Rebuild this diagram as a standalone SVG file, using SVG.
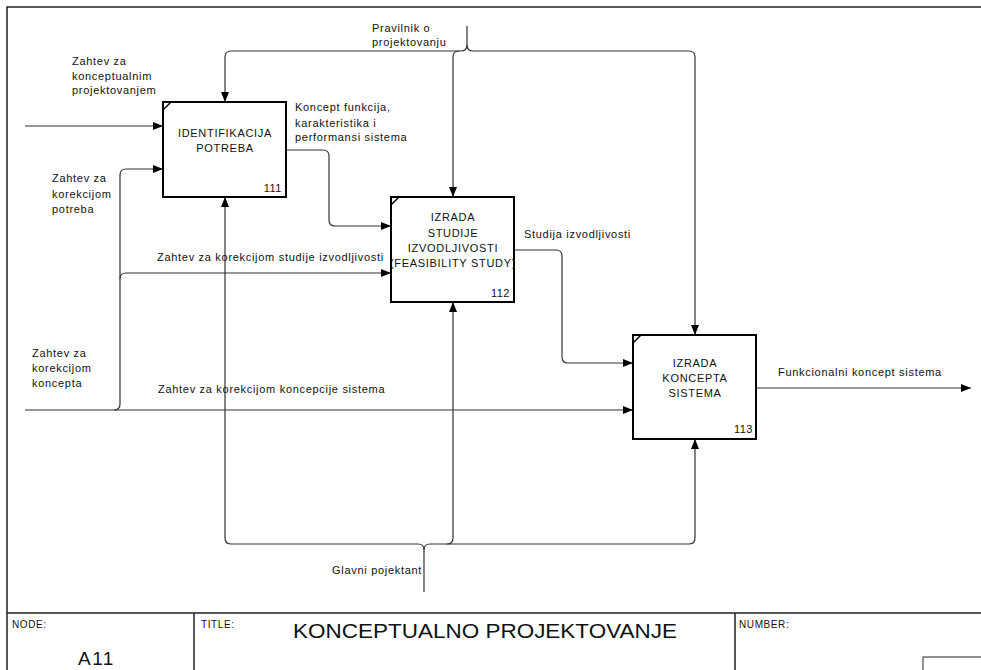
<svg xmlns="http://www.w3.org/2000/svg" width="981" height="670" viewBox="0 0 981 670">
  <defs>
    <marker id="arrow" markerUnits="userSpaceOnUse" markerWidth="10" markerHeight="8" refX="10" refY="4" orient="auto">
      <path d="M0,0 L10,4 L0,8 z" fill="#000"/>
    </marker>
    <style>
      text { font-family: "Liberation Sans", Arial, sans-serif; fill: #111; }
      .lbl { font-size: 11px; letter-spacing: 0.7px; }
      .box { fill: #fff; stroke: #000; stroke-width: 2; }
      .tick { stroke: #000; stroke-width: 1.5; }
      .btxt { font-size: 11px; letter-spacing: 0.7px; text-anchor: middle; }
      .num { font-size: 11px; letter-spacing: 0.5px; text-anchor: end; }
      .conn { fill: none; stroke: #333; stroke-width: 1.2; }
      .arr { marker-end: url(#arrow); }
      .frame { fill: none; stroke: #222; stroke-width: 1.5; }
      .ftag { font-size: 10px; letter-spacing: 0.6px; }
    </style>
  </defs>

  <rect width="981" height="670" fill="#fff"/>

  <!-- frame and title block -->
  <g id="frame">
    <path class="frame" d="M7,670 V7 H981"/>
    <path class="frame" d="M7,613 H981 M194,613 V670 M735,613 V670"/>
    <rect x="923" y="657" width="70" height="30" fill="none" stroke="#222" stroke-width="1"/>
    <text class="ftag" x="12" y="628">NODE:</text>
    <text class="ftag" x="201" y="628">TITLE:</text>
    <text class="ftag" x="739" y="628">NUMBER:</text>
    <text x="78" y="665" font-size="19" letter-spacing="1.5">A11</text>
    <text x="293" y="638" font-size="21" textLength="384" lengthAdjust="spacingAndGlyphs">KONCEPTUALNO PROJEKTOVANJE</text>
  </g>

  <!-- connectors -->
  <g id="connectors">
    <!-- input: request for conceptual design -->
    <path class="conn arr" d="M25,126 H163"/>
    <!-- input: correction of concept, with branches up to boxes 1 and 2 -->
    <path class="conn arr" d="M25,410 H633"/>
    <path class="conn arr" d="M114,410 Q120,410 120,404 V175 Q120,169 126,169 H163"/>
    <path class="conn arr" d="M120,279 Q120,273 126,273 H391"/>
    <!-- box 1 output to box 2 -->
    <path class="conn arr" d="M286,150 H323 Q329,150 329,156 V220 Q329,226 335,226 H391"/>
    <!-- box 2 output to box 3 -->
    <path class="conn arr" d="M514,250 H556 Q562,250 562,256 V357 Q562,363 568,363 H633"/>
    <!-- box 3 output -->
    <path class="conn arr" d="M756,388 H971"/>
    <!-- control: design rules -->
    <path class="conn arr" d="M467,26 V45 Q467,51 461,51 H231 Q225,51 225,57 V102"/>
    <path class="conn arr" d="M459,51 Q453,51 453,57 V197"/>
    <path class="conn arr" d="M467,45 Q467,51 473,51 H689 Q695,51 695,57 V335"/>
    <!-- mechanism: chief designer -->
    <path class="conn arr" d="M424,592 V550 Q424,544 418,544 H231 Q225,544 225,538 V197"/>
    <path class="conn arr" d="M424,550 Q424,544 430,544 H689 Q695,544 695,538 V439"/>
    <path class="conn arr" d="M447,544 Q453,544 453,538 V302"/>
  </g>

  <!-- arrow labels -->
  <g id="labels">
    <text class="lbl" x="72" y="65">Zahtev za</text>
    <text class="lbl" x="72" y="80">konceptualnim</text>
    <text class="lbl" x="72" y="94">projektovanjem</text>
    <text class="lbl" x="372" y="32">Pravilnik o</text>
    <text class="lbl" x="372" y="46">projektovanju</text>
    <text class="lbl" x="295" y="111">Koncept funkcija,</text>
    <text class="lbl" x="295" y="127">karakteristika i</text>
    <text class="lbl" x="295" y="141">performansi sistema</text>
    <text class="lbl" x="52" y="182">Zahtev za</text>
    <text class="lbl" x="52" y="198">korekcijom</text>
    <text class="lbl" x="52" y="213">potreba</text>
    <text class="lbl" x="157" y="261">Zahtev za korekcijom studije izvodljivosti</text>
    <text class="lbl" x="524" y="238">Studija izvodljivosti</text>
    <text class="lbl" x="32" y="357">Zahtev za</text>
    <text class="lbl" x="32" y="372">korekcijom</text>
    <text class="lbl" x="32" y="387">koncepta</text>
    <text class="lbl" x="158" y="393">Zahtev za korekcijom koncepcije sistema</text>
    <text class="lbl" x="778" y="376">Funkcionalni koncept sistema</text>
    <text class="lbl" x="332" y="574">Glavni pojektant</text>
  </g>

  <!-- activity boxes -->
  <g id="box111">
    <rect class="box" x="163" y="102" width="123" height="95"/>
    <line class="tick" x1="163" y1="110" x2="171" y2="102"/>
    <text class="btxt" x="225" y="137">IDENTIFIKACIJA</text>
    <text class="btxt" x="225" y="152">POTREBA</text>
    <text class="num" x="282" y="192">111</text>
  </g>

  <g id="box112">
    <rect class="box" x="391" y="197" width="123" height="105"/>
    <line class="tick" x1="391" y1="205" x2="399" y2="197"/>
    <text class="btxt" x="453" y="221">IZRADA</text>
    <text class="btxt" x="453" y="237">STUDIJE</text>
    <text class="btxt" x="453" y="252">IZVODLJIVOSTI</text>
    <text class="btxt" x="453" y="267">(FEASIBILITY STUDY)</text>
    <text class="num" x="510" y="297">112</text>
  </g>

  <g id="box113">
    <rect class="box" x="633" y="335" width="123" height="104"/>
    <line class="tick" x1="633" y1="343" x2="641" y2="335"/>
    <text class="btxt" x="695" y="367">IZRADA</text>
    <text class="btxt" x="695" y="382">KONCEPTA</text>
    <text class="btxt" x="695" y="397">SISTEMA</text>
    <text class="num" x="753" y="433">113</text>
  </g>
</svg>
